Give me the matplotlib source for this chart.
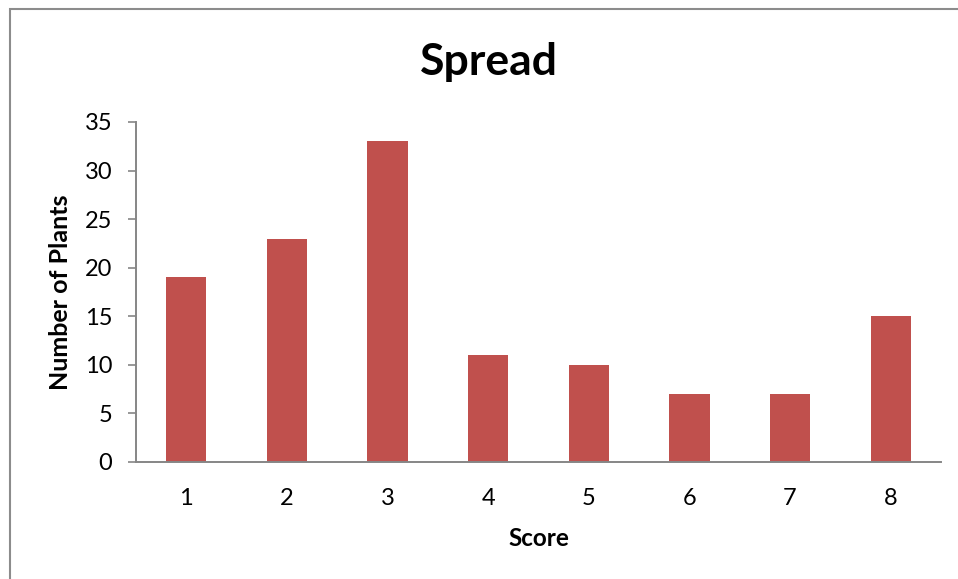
import matplotlib.pyplot as plt
from matplotlib.patches import Rectangle

# plant counts per spread score
scores = ['1', '2', '3', '4', '5', '6', '7', '8']
plant_counts = [19, 23, 33, 11, 10, 7, 7, 15]
y_ticks = [0, 5, 10, 15, 20, 25, 30, 35]


def main():
    plt.rcParams['font.family'] = ['Lato', 'DejaVu Sans']

    fig = plt.figure(figsize=(9.58, 5.79), dpi=100)
    ax = fig.add_axes([136 / 958, 1 - 462 / 579, 805 / 958, 340 / 579])

    ax.bar(scores, plant_counts, width=0.4, color='#C0504D', edgecolor='none')

    ax.set_xlim(-0.5, len(scores) - 0.5)
    ax.set_ylim(0, 35)
    ax.set_yticks(y_ticks)

    # axis styling
    axis_grey = '#868686'
    for side in ('top', 'right'):
        ax.spines[side].set_visible(False)
    for side in ('left', 'bottom'):
        ax.spines[side].set_color(axis_grey)
        ax.spines[side].set_linewidth(1.4)
    ax.tick_params(axis='y', length=6, width=1.2, color=axis_grey,
                   labelsize=17, pad=11)
    ax.tick_params(axis='x', length=0, labelsize=17, pad=19)

    ax.set_xlabel('Score', fontsize=17.5, fontweight='bold')
    ax.set_ylabel('Number of Plants', fontsize=18, fontweight='bold')
    ax.xaxis.set_label_coords(0.5, -0.19)
    ax.yaxis.set_label_coords(-0.08, 0.5)

    fig.text(489 / 958, 1 - 62 / 579, 'Spread', fontsize=32,
             fontweight='bold', ha='center', va='center')

    # chart area border
    fig.patches.append(Rectangle((9.5 / 958, -0.1), 2, 1.1 - 9.5 / 579,
                                 transform=fig.transFigure, fill=False,
                                 ec='#8c8c8c', lw=1.5))

    fig.savefig('out.png', dpi=100)


if __name__ == '__main__':
    main()
